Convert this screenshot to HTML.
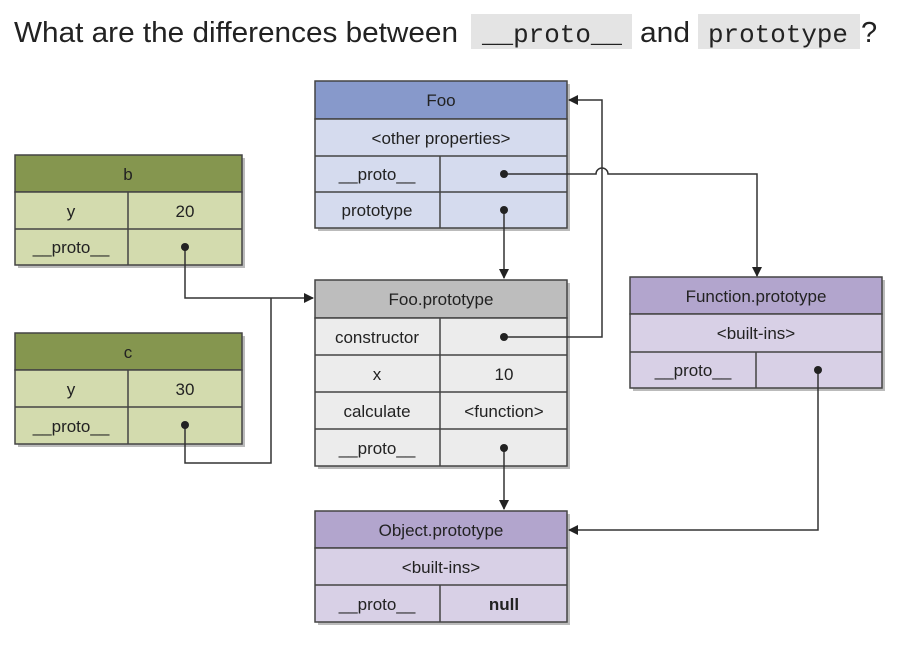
<!DOCTYPE html>
<html><head><meta charset="utf-8"><style>
html,body{margin:0;padding:0;background:#fff;width:910px;height:666px;overflow:hidden}
svg text{font-family:"Liberation Sans",sans-serif}
.t{font-size:17px;fill:#222;text-anchor:middle}
</style></head><body>
<svg width="910" height="666" viewBox="0 0 910 666" xmlns="http://www.w3.org/2000/svg">
<defs>
<marker id="a" markerWidth="10" markerHeight="10" refX="9" refY="5" orient="auto" markerUnits="userSpaceOnUse"><path d="M0,0 L10,5 L0,10 z" fill="#222"/></marker>
</defs>
<!-- title -->
<rect x="471" y="14" width="161" height="35" fill="#e4e4e4"/>
<rect x="698" y="14" width="162" height="35" fill="#e4e4e4"/>
<text x="14" y="42" textLength="444" lengthAdjust="spacingAndGlyphs" style="font-size:29px;fill:#222">What are the differences between</text>
<text x="482" y="42" textLength="140" lengthAdjust="spacingAndGlyphs" style="font-family:'Liberation Mono',monospace;font-size:26px;fill:#222">__proto__</text>
<text x="640" y="42" textLength="50" lengthAdjust="spacingAndGlyphs" style="font-size:29px;fill:#222">and</text>
<text x="708" y="42" textLength="140" lengthAdjust="spacingAndGlyphs" style="font-family:'Liberation Mono',monospace;font-size:26px;fill:#222">prototype</text>
<text x="861" y="42" style="font-size:29px;fill:#222">?</text>

<g stroke="#444" stroke-width="1.5">
<g fill="#bbb" stroke="none">
<rect x="318" y="84" width="252" height="147"/>
<rect x="18" y="158" width="227" height="110"/>
<rect x="18" y="336" width="227" height="111"/>
<rect x="318" y="283" width="252" height="186"/>
<rect x="633" y="280" width="252" height="111"/>
<rect x="318" y="514" width="252" height="111"/>
</g>
<rect x="315" y="81" width="252" height="38" fill="#8799cb"/>
<rect x="315" y="119" width="252" height="109" fill="#d5dbee"/>
<line x1="315" y1="156" x2="567" y2="156"/><line x1="315" y1="192" x2="567" y2="192"/><line x1="440" y1="156" x2="440" y2="228"/>
<rect x="15" y="155" width="227" height="37" fill="#85964f"/>
<rect x="15" y="192" width="227" height="73" fill="#d3dbae"/>
<line x1="15" y1="229" x2="242" y2="229"/><line x1="128" y1="192" x2="128" y2="265"/>
<rect x="15" y="333" width="227" height="37" fill="#85964f"/>
<rect x="15" y="370" width="227" height="74" fill="#d3dbae"/>
<line x1="15" y1="407" x2="242" y2="407"/><line x1="128" y1="370" x2="128" y2="444"/>
<rect x="315" y="280" width="252" height="38" fill="#bdbdbd"/>
<rect x="315" y="318" width="252" height="148" fill="#ececec"/>
<line x1="315" y1="355" x2="567" y2="355"/><line x1="315" y1="392" x2="567" y2="392"/><line x1="315" y1="429" x2="567" y2="429"/><line x1="440" y1="318" x2="440" y2="466"/>
<rect x="630" y="277" width="252" height="37" fill="#b2a5cd"/>
<rect x="630" y="314" width="252" height="74" fill="#d8d0e6"/>
<line x1="630" y1="352" x2="882" y2="352"/><line x1="756" y1="352" x2="756" y2="388"/>
<rect x="315" y="511" width="252" height="37" fill="#b2a5cd"/>
<rect x="315" y="548" width="252" height="74" fill="#d8d0e6"/>
<line x1="315" y1="585" x2="567" y2="585"/><line x1="440" y1="585" x2="440" y2="622"/>
</g>

<g stroke="#333" stroke-width="1.5" fill="none">
<path d="M504,174 H596 A6,6 0 0 1 608,174 H757 V276" marker-end="url(#a)"/>
<path d="M504,210 V278" marker-end="url(#a)"/>
<path d="M504,337 H602 V100 H569" marker-end="url(#a)"/>
<path d="M185,247 V298 H313" marker-end="url(#a)"/>
<path d="M185,425 V463 H271 V298"/>
<path d="M504,448 V509" marker-end="url(#a)"/>
<path d="M818,370 V530 H569" marker-end="url(#a)"/>
</g>
<g fill="#222">
<circle cx="504" cy="174" r="4"/><circle cx="504" cy="210" r="4"/><circle cx="504" cy="337" r="4"/>
<circle cx="185" cy="247" r="4"/><circle cx="185" cy="425" r="4"/><circle cx="504" cy="448" r="4"/>
<circle cx="818" cy="370" r="4"/>
</g>

<text class="t" x="441" y="106">Foo</text>
<text class="t" x="441" y="144">&lt;other properties&gt;</text>
<text class="t" x="377" y="180">__proto__</text>
<text class="t" x="377" y="216">prototype</text>

<text class="t" x="128" y="180">b</text>
<text class="t" x="71" y="217">y</text><text class="t" x="185" y="217">20</text>
<text class="t" x="71" y="253">__proto__</text>

<text class="t" x="128" y="358">c</text>
<text class="t" x="71" y="395">y</text><text class="t" x="185" y="395">30</text>
<text class="t" x="71" y="432">__proto__</text>

<text class="t" x="441" y="305">Foo.prototype</text>
<text class="t" x="377" y="343">constructor</text>
<text class="t" x="377" y="380">x</text><text class="t" x="504" y="380">10</text>
<text class="t" x="377" y="417">calculate</text><text class="t" x="504" y="417">&lt;function&gt;</text>
<text class="t" x="377" y="454">__proto__</text>

<text class="t" x="756" y="302">Function.prototype</text>
<text class="t" x="756" y="339">&lt;built-ins&gt;</text>
<text class="t" x="693" y="376">__proto__</text>

<text class="t" x="441" y="536">Object.prototype</text>
<text class="t" x="441" y="573">&lt;built-ins&gt;</text>
<text class="t" x="377" y="610">__proto__</text>
<text class="t" x="504" y="610" style="font-weight:bold">null</text>
</svg>
</body></html>
